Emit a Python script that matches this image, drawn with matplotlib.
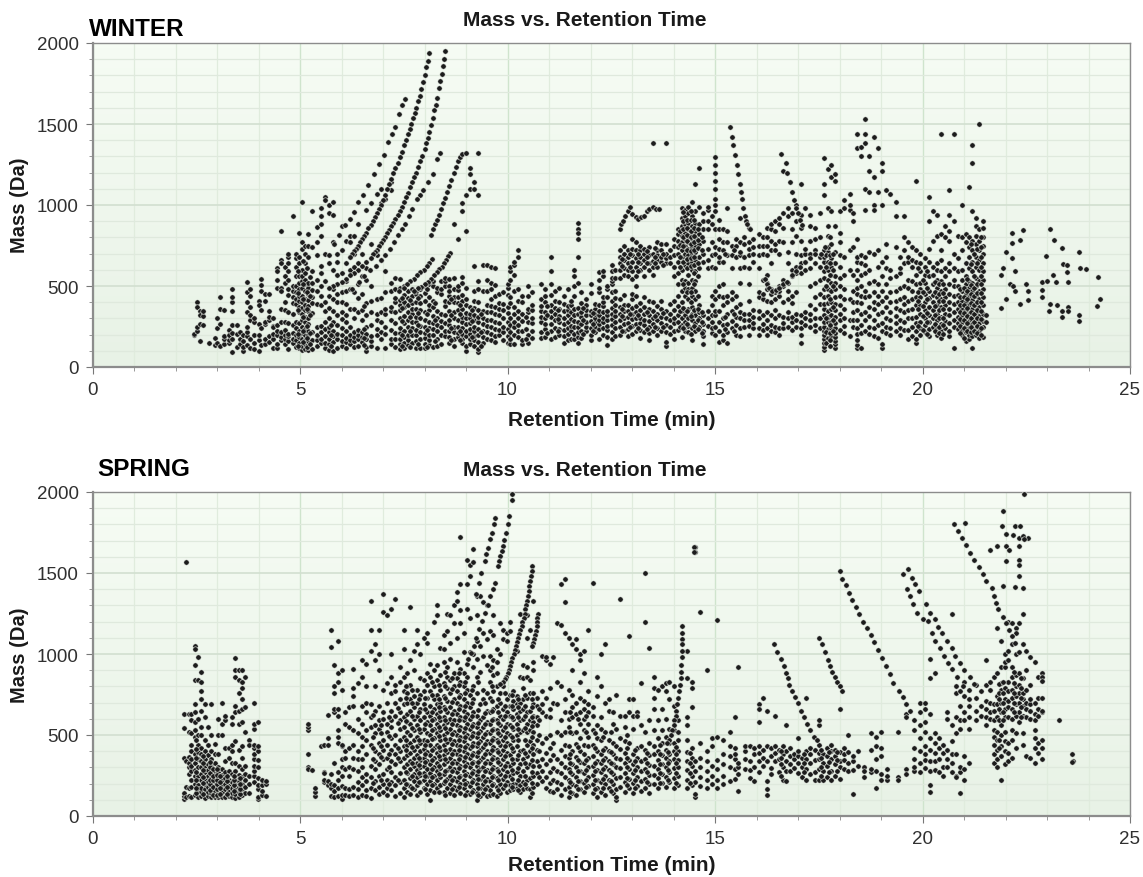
"""Mass vs. retention time scatter for the winter and spring samples.

Values were read off the published figure by eye. Clouds are stored as
retention time -> list of masses, the sharp homologue traces as paired lists.
"""
import numpy as np
import matplotlib
matplotlib.use("Agg")
import matplotlib.pyplot as plt

plt.rcParams["font.family"] = ["Liberation Sans", "DejaVu Sans"]

X_TICKS = [0, 5, 10, 15, 20, 25]
Y_TICKS = [0, 500, 1000, 1500, 2000]

# ---- WINTER clouds ----
winter_cloud_a = {
    2.45: [195, 205], 2.52: [225, 250, 400, 370], 2.58: [160, 265, 345, 320], 2.66: [260, 315, 345],
    2.8: [150], 2.95: [180, 135], 3.0: [240, 300, 150], 3.08: [130, 265, 360, 435], 3.18: [140, 170, 350, 190],
    3.3: [150, 165, 230, 200], 3.37: [95, 170, 210, 260, 345, 400, 430, 480], 3.47: [125, 205, 260], 3.55: [145, 215, 175],
    3.63: [100, 125, 160, 200], 3.72: [135, 190, 215, 250, 340, 400, 460, 525], 3.8: [120, 170, 290, 320, 370, 440, 480],
    3.9: [110, 150, 195, 275, 300], 4.0: [100, 165, 195, 265, 410, 380], 4.05: [135, 240, 350, 470, 505, 545],
    4.15: [140, 175, 265, 275, 405, 450], 4.25: [155, 190, 290, 310, 345, 450], 4.35: [120, 170, 205, 255, 245, 300],
    4.45: [115, 140, 200, 225, 260, 540, 610, 590, 490], 4.55: [165, 185, 215, 275, 360, 490, 470, 660, 640, 840],
    4.63: [145, 175, 200, 230, 275, 350, 400, 520, 560, 620],
    4.72: [110, 160, 190, 205, 270, 340, 445, 480, 540, 590, 640, 680, 700],
    4.82: [150, 175, 210, 260, 330, 395, 430, 470, 500, 930],
    4.9: [125, 165, 200, 240, 280, 390, 420, 460, 500, 560, 620, 670, 700],
    4.98: [120, 150, 185, 220, 270, 340, 370, 410, 440, 480, 520, 560, 640, 680, 830],
    5.05: [105, 130, 175, 210, 250, 290, 330, 365, 400, 440, 490, 530, 560, 600, 770, 730, 1020],
    5.12: [110, 140, 165, 200, 235, 275, 310, 350, 385, 420, 470, 510, 540, 580, 640, 700, 750],
    5.2: [105, 125, 160, 195, 225, 265, 300, 345, 375, 415, 450, 490, 520, 820, 750, 680],
    5.3: [110, 165, 215, 335, 395, 430, 475, 520, 590, 740, 960],
    5.4: [130, 165, 195, 250, 390, 470, 540, 690, 770, 865],
    5.5: [150, 170, 215, 255, 380, 440, 500, 580, 625, 810, 980, 930, 880],
    5.6: [120, 150, 190, 235, 280, 345, 400, 530, 700, 1050, 1030],
}
winter_cloud_b = {
    5.7: [105, 140, 175, 215, 250, 300, 365, 440, 640, 950, 1000],
    5.8: [100, 155, 190, 225, 275, 345, 420, 480, 600, 770, 1020, 940],
    5.9: [120, 170, 205, 260, 320, 400, 450, 570, 650, 700],
    6.0: [130, 160, 200, 240, 295, 340, 400, 460, 580, 720, 870],
    6.1: [115, 155, 180, 225, 275, 320, 390, 470, 530, 640, 780],
    6.2: [145, 165, 195, 245, 360, 480, 600, 680, 810, 770],
    6.3: [125, 160, 185, 215, 300, 355, 460, 620, 700, 810],
    6.4: [130, 170, 195, 230, 340, 425, 510, 640, 740, 880],
    6.5: [155, 185, 215, 290, 350, 450, 560, 700, 790],
    6.6: [100, 125, 170, 205, 250, 320, 395, 540, 610, 970],
    6.7: [130, 160, 190, 260, 340, 410, 500, 760, 1010],
    6.85: [115, 200, 235, 290, 330, 420, 690, 1070],
    6.95: [175, 215, 280, 340, 425, 660, 1010, 1100],
    7.05: [120, 205, 250, 325, 360, 465, 590, 1040],
    7.2: [140, 175, 230, 290, 345, 370, 470, 520, 1090, 1140],
    7.3: [125, 170, 210, 270, 340, 400, 425, 480, 550],
    7.4: [110, 140, 175, 210, 240, 300, 350, 380, 415, 490, 545],
    7.5: [115, 150, 185, 225, 270, 315, 370, 400, 445, 500],
    7.6: [135, 165, 200, 245, 290, 340, 380, 425, 470],
    7.7: [150, 195, 240, 275, 330, 360, 395, 440, 480],
    7.8: [115, 160, 200, 230, 280, 310, 355, 400, 450, 470],
    7.9: [120, 175, 215, 255, 305, 350, 395, 440, 480],
    8.0: [115, 140, 180, 210, 250, 290, 340, 405, 455, 500],
    8.1: [135, 165, 195, 240, 280, 350, 380, 430, 510],
    8.2: [125, 195, 235, 270, 315, 370, 405, 500, 530],
    8.3: [130, 175, 220, 260, 300, 345, 460, 490],
    8.4: [140, 200, 245, 285, 325, 450, 480, 530],
    8.5: [190, 225, 270, 320, 375, 410, 500, 530, 550],
    8.6: [150, 185, 220, 260, 290, 345, 400, 440, 545, 500, 470],
    8.7: [130, 170, 215, 250, 300, 340, 400, 435, 480, 550, 880],
    8.8: [185, 210, 245, 290, 350, 395, 430, 475, 500, 790],
    8.9: [150, 175, 205, 240, 280, 310, 360, 405, 445, 555, 520, 960, 1010],
    9.0: [100, 130, 190, 225, 265, 300, 335, 380, 420, 490, 840, 1060],
    9.1: [145, 170, 205, 235, 270, 300, 330, 370, 1100, 1190, 1230],
    9.2: [130, 165, 190, 220, 250, 290, 320, 365, 405, 470, 625, 1140, 1100],
    9.3: [95, 110, 155, 200, 235, 275, 310, 350, 400, 480, 530, 1060, 1320],
    9.4: [150, 185, 225, 265, 300, 345, 470, 630],
    9.5: [175, 215, 255, 290, 340, 385, 470, 540, 630],
}
winter_cloud_c = {
    9.6: [165, 205, 245, 290, 340, 375, 420, 480, 520, 620],
    9.7: [155, 190, 235, 280, 330, 370, 440, 505, 610],
    9.8: [195, 230, 270, 320, 355, 395, 450],
    9.9: [165, 215, 250, 300, 350, 390, 465],
    10.0: [150, 190, 235, 280, 335, 370, 445, 490, 510],
    10.07: [145, 175, 215, 260, 300, 395, 430, 540, 590, 620],
    10.15: [140, 200, 245, 280, 325, 370, 470, 630, 570, 650],
    10.25: [185, 225, 260, 300, 345, 410, 480, 680, 720],
    10.35: [140, 165, 220, 285, 330, 400, 440],
    10.5: [150, 195, 275, 340, 360, 440, 500],
    10.6: [180, 220, 270, 300, 350, 385, 460],
    10.8: [180, 215, 280, 310, 345, 375, 420, 510],
    10.9: [185, 235, 265, 300, 340, 400, 440, 480],
    11.05: [175, 220, 265, 310, 345, 380, 445, 510, 590, 680],
    11.15: [185, 240, 290, 330, 365, 410, 470],
    11.25: [200, 235, 275, 315, 360, 400, 490],
    11.35: [150, 190, 230, 265, 300, 345, 390, 440],
    11.45: [165, 205, 240, 280, 320, 350, 375, 480],
    11.52: [170, 225, 255, 295, 340, 385, 410],
    11.6: [175, 205, 250, 285, 320, 360, 440, 500, 560, 600],
    11.7: [150, 185, 215, 245, 280, 325, 365, 520, 680, 790, 850, 890, 830],
    11.78: [180, 225, 265, 310, 340, 395, 460],
    11.9: [220, 250, 280, 320, 350, 380, 420],
    12.0: [165, 200, 240, 285, 320, 345, 455, 510],
    12.1: [215, 245, 275, 300, 330, 355, 390],
    12.2: [170, 235, 265, 290, 320, 345, 380, 460, 490, 540, 585],
    12.3: [200, 240, 275, 305, 340, 375, 400, 430, 560, 590],
    12.4: [135, 185, 230, 255, 290, 320, 345, 430, 480, 500],
    12.52: [170, 215, 260, 295, 330, 365, 410, 460, 510, 530, 550, 590, 630],
    12.6: [190, 240, 275, 315, 345, 385, 425, 470, 550, 600],
    12.7: [200, 245, 290, 330, 370, 420, 550, 600, 640, 680, 720],
    12.8: [220, 265, 300, 345, 380, 445, 570, 610, 660, 700, 750],
    12.9: [190, 235, 270, 310, 345, 385, 560, 600, 640, 680, 720],
    13.0: [205, 255, 295, 330, 365, 420, 450, 545, 590, 650, 690, 730, 790],
    13.1: [220, 265, 300, 340, 375, 440, 500, 560, 620, 670, 720, 770],
    13.2: [180, 230, 270, 305, 350, 395, 600, 640, 680, 720, 750],
    13.3: [215, 260, 290, 325, 370, 430, 560, 620, 660, 700, 730],
    13.4: [165, 210, 250, 285, 320, 360, 410, 600, 640, 690, 740],
    13.5: [220, 265, 300, 345, 400, 570, 620, 655, 700, 1380],
    13.6: [200, 240, 290, 330, 375, 620, 660, 690, 720, 770],
    13.7: [225, 270, 310, 355, 410, 650, 680, 720, 760],
    13.82: [130, 155, 215, 260, 300, 345, 640, 670, 700, 760, 1380],
    13.92: [205, 250, 290, 330, 390, 640, 680, 720],
}
winter_cloud_d = {
    14.0: [170, 225, 270, 305, 350, 410, 560, 620, 690, 750, 790],
    14.1: [230, 280, 320, 375, 440, 510, 580, 650, 700, 740, 780, 820, 850],
    14.2: [185, 260, 300, 345, 400, 470, 540, 600, 680, 720, 770, 810, 870, 920, 980],
    14.28: [225, 275, 320, 440, 490, 530, 630, 700, 750, 790, 830, 880, 930, 970],
    14.36: [215, 255, 300, 355, 420, 480, 520, 570, 640, 690, 730, 770, 810, 850, 890, 950, 985],
    14.45: [165, 240, 290, 330, 370, 440, 490, 540, 600, 650, 700, 740, 790, 830, 870, 930, 1020],
    14.52: [220, 270, 320, 420, 470, 530, 590, 660, 710, 750, 800, 840, 890, 960, 1130],
    14.62: [250, 300, 340, 385, 610, 680, 760, 820, 880, 990, 1230],
    14.72: [140, 190, 225, 265, 320, 650, 700, 780, 850, 900, 950],
    14.82: [255, 300, 345, 610, 660, 730, 850, 900, 970, 990],
    14.92: [210, 240, 280, 320, 385, 440, 620, 690, 770, 880, 930],
    15.0: [200, 250, 320, 345, 420, 470, 610, 700, 740, 850, 960, 1000, 1040, 1100, 1150, 1200, 1250, 1297],
    15.1: [155, 225, 280, 345, 440, 500, 650, 680, 730, 790, 850, 910],
    15.2: [165, 195, 260, 300, 380, 430, 510, 650, 720, 770, 850],
    15.3: [150, 215, 265, 330, 400, 440, 690, 770, 840, 980],
    15.4: [240, 285, 345, 420, 460, 610, 690, 750],
    15.5: [200, 260, 310, 370, 440, 680, 750, 790],
    15.6: [190, 240, 300, 340, 390, 520, 610, 690, 710, 770, 920],
    15.7: [245, 290, 330, 620, 680, 760, 800],
    15.82: [195, 255, 290, 330, 410, 510, 610, 690, 730, 770, 860],
    15.92: [240, 270, 310, 350, 650, 700, 740, 790],
    16.05: [195, 240, 300, 345, 430, 460, 610, 690, 750, 820],
    16.15: [230, 265, 320, 420, 450, 540, 700, 750, 800],
    16.25: [195, 240, 290, 340, 410, 480, 520, 570, 690, 750, 800, 860],
    16.35: [220, 260, 320, 400, 450, 480, 640, 720, 780, 850, 880],
    16.45: [215, 250, 305, 350, 420, 460, 720, 760, 840, 900],
    16.55: [195, 240, 320, 440, 470, 500, 700, 780, 880, 920],
    16.65: [240, 270, 310, 400, 500, 540, 770, 860, 950, 1210],
    16.75: [250, 300, 340, 420, 470, 520, 640, 710, 930, 980],
    16.85: [230, 275, 310, 395, 440, 560, 600, 770, 850, 950],
    16.95: [250, 290, 330, 460, 580, 620, 700, 810, 900, 1000],
    17.08: [150, 195, 240, 280, 320, 580, 640, 690, 780, 860, 940, 1130],
    17.18: [260, 300, 340, 600, 650, 700, 730, 980],
    17.3: [250, 290, 330, 380, 500, 610, 700, 780, 870, 940],
    17.4: [225, 260, 300, 360, 430, 520, 640, 720, 790, 860],
    17.52: [240, 300, 390, 450, 540, 620, 680, 800, 950],
    17.63: [105, 125, 150, 175, 200, 225, 250, 280, 320, 360, 390, 430, 480, 550, 590, 650, 680, 720, 1060, 1130, 1290],
    17.72: [180, 235, 280, 310, 345, 395, 440, 480, 540, 600, 650, 710, 740, 810, 870, 980, 1220],
    17.8: [190, 240, 275, 320, 355, 400, 470, 520, 570, 620, 670, 760, 960, 1170, 1250],
    17.9: [120, 140, 160, 185, 210, 240, 270, 310, 350, 390, 430, 480, 520, 560, 640, 710, 870, 1190, 1150],
}
winter_cloud_e = {
    18.0: [230, 290, 330, 385, 440, 500, 550, 620, 690, 770, 830, 960],
    18.12: [210, 255, 300, 360, 420, 480, 570, 680, 980, 1030],
    18.25: [190, 290, 420, 600, 720, 970, 1000, 1070],
    18.33: [250, 290, 340, 400, 470, 570, 740, 900, 950],
    18.42: [115, 135, 165, 205, 240, 290, 350, 400, 450, 490, 540, 600, 650, 680, 790, 1440, 1350],
    18.52: [120, 210, 260, 330, 395, 440, 500, 570, 640, 690, 1360, 1300],
    18.62: [220, 290, 340, 430, 470, 580, 630, 680, 970, 1100, 1530, 1440, 1380],
    18.72: [205, 250, 315, 370, 440, 520, 600, 710, 1080, 1210, 1300],
    18.82: [190, 240, 290, 360, 400, 460, 530, 700, 1000, 970, 1170, 1420],
    18.92: [180, 260, 330, 390, 440, 510, 620, 720, 1080, 1350],
    19.02: [120, 145, 220, 270, 340, 410, 470, 560, 650, 1000, 1260, 1210],
    19.12: [210, 250, 300, 370, 430, 510, 610, 680, 760, 1090],
    19.22: [195, 240, 290, 340, 400, 460, 550, 600, 1070],
    19.35: [220, 270, 315, 365, 410, 470, 560, 740, 1020, 930],
    19.45: [195, 240, 290, 350, 420, 490, 580, 610, 680],
    19.55: [230, 280, 340, 390, 430, 500, 640, 720, 800, 930],
    19.65: [170, 230, 300, 350, 410, 490, 540, 650, 680, 770],
    19.75: [190, 250, 300, 360, 420, 470, 530, 620, 660, 740],
    19.85: [150, 175, 220, 270, 310, 380, 430, 510, 570, 650, 720, 1150],
    19.95: [195, 240, 280, 330, 380, 430, 480, 520, 590, 640, 700],
    20.05: [215, 260, 300, 350, 400, 450, 520, 570, 620, 670],
    20.15: [190, 235, 275, 320, 370, 425, 470, 560, 650, 730, 900, 1050],
    20.25: [250, 300, 350, 400, 445, 510, 570, 620, 780, 960],
    20.35: [195, 240, 290, 330, 380, 430, 490, 540, 600, 640, 810, 940],
    20.45: [180, 225, 265, 310, 370, 420, 470, 530, 590, 660, 720, 820, 1440],
    20.55: [240, 285, 330, 380, 430, 480, 560, 610, 800, 870],
    20.65: [190, 225, 270, 320, 360, 400, 450, 510, 590, 640, 780, 840, 940, 1090],
    20.75: [115, 250, 290, 340, 390, 440, 500, 540, 610, 700, 900, 1440],
    20.85: [235, 270, 310, 360, 400, 445, 500, 590, 670, 810],
    20.95: [195, 230, 275, 320, 360, 410, 470, 540, 600, 720, 800, 1000],
    21.05: [160, 215, 255, 300, 350, 400, 450, 510, 560, 640, 770, 820],
    21.12: [170, 200, 240, 285, 325, 380, 430, 490, 530, 610, 680, 740, 800, 1110],
    21.2: [115, 190, 265, 310, 360, 415, 470, 520, 590, 650, 720, 780, 960, 1260, 1370],
    21.28: [195, 240, 290, 330, 375, 440, 500, 550, 620, 680, 760, 810, 870, 920],
    21.36: [180, 225, 270, 315, 370, 420, 470, 530, 600, 660, 720, 780, 850, 1500],
    21.45: [185, 250, 285, 330, 380, 435, 480, 540, 590, 640, 700, 750, 800, 860, 900],
    21.52: [280, 320],
}
# second pass over the busiest stretches of the winter run
winter_cloud_f = {
    4.95: [132, 205, 352, 455, 590], 5.08: [152, 222, 310, 418, 515, 655], 5.16: [122, 182, 255, 360, 465, 610],
    5.25: [140, 210, 320, 440, 555], 5.75: [128, 200, 262], 6.55: [135, 178, 235, 375], 7.45: [128, 195, 285, 365, 425],
    7.65: [125, 222, 310, 412], 7.85: [142, 262, 335, 425], 8.05: [125, 228, 325, 480], 8.25: [160, 290, 395],
    8.65: [165, 238, 320, 420], 8.85: [165, 225, 325, 380], 9.15: [185, 285, 350], 9.35: [130, 215, 330],
    10.45: [170, 235, 310], 10.95: [210, 320, 375], 11.22: [220, 295, 350], 11.82: [205, 290, 365],
    12.05: [225, 265, 335], 12.75: [225, 315, 355, 625, 665], 12.95: [250, 325, 620, 700], 13.15: [240, 320, 590, 650, 700],
    13.35: [235, 340, 640, 680, 715], 13.55: [245, 315, 640, 680, 735], 13.75: [245, 335, 630, 700],
    14.15: [250, 345, 620, 680, 755, 840], 14.24: [240, 365, 510, 650, 745, 800, 850, 900, 955],
    14.32: [265, 345, 460, 610, 665, 720, 775, 815, 860, 910], 14.41: [205, 315, 400, 465, 625, 675, 715, 760, 800, 840, 905, 965],
    14.49: [255, 350, 510, 580, 630, 680, 725, 770, 810, 855, 910], 14.58: [235, 290, 360, 440, 560, 640, 735, 785, 850],
    14.68: [210, 280, 340, 720, 800], 15.25: [235, 310, 700], 15.45: [225, 330, 720], 17.68: [150, 215, 300, 500, 620, 690],
    17.76: [130, 165, 210, 260, 420, 570, 640, 690], 17.85: [220, 290, 370, 500, 600, 700], 19.9: [255, 355, 405, 460, 610],
    20.0: [230, 315, 375, 465, 540], 20.1: [205, 280, 335, 420, 490, 590], 20.3: [225, 265, 320, 375, 465, 525],
    20.4: [210, 250, 305, 350, 405, 450, 515], 20.5: [205, 260, 305, 355, 410, 455, 510], 20.9: [210, 255, 295, 340, 385, 430, 480],
    21.0: [180, 240, 290, 335, 385, 435, 490], 21.08: [225, 270, 315, 365, 420, 470, 545], 21.16: [215, 250, 300, 340, 395, 450, 505, 635, 760],
    21.24: [225, 275, 325, 380, 440, 490, 560, 700], 21.32: [210, 255, 305, 350, 400, 455, 510, 640, 730],
    21.4: [200, 240, 295, 345, 400, 455, 510, 560, 620, 680, 740, 800],
}
winter_tail_rt = [21.89, 21.93, 22.0, 22.16, 22.16, 22.16, 22.22, 22.11, 22.18, 22.22, 22.02, 21.89, 22.35, 22.35,
                  22.42, 22.5, 22.55, 22.55, 22.89, 22.89, 22.89, 23.0, 22.98, 23.08, 23.17, 23.14, 23.21, 23.04,
                  23.07, 23.24, 23.36, 23.39, 23.48, 23.48, 23.5, 23.36, 23.36, 23.5, 23.5, 23.78, 23.8, 23.94,
                  23.77, 23.77, 24.24, 24.28, 24.2]
winter_tail_mass = [566, 611, 710, 827, 766, 673, 593, 515, 500, 467, 422, 366, 391, 786,
                    844, 515, 469, 416, 525, 477, 432, 529, 685, 854, 782, 566, 525, 346,
                    391, 381, 737, 638, 628, 587, 525, 346, 309, 370, 346, 710, 613, 603,
                    319, 282, 554, 422, 377]

# ---- WINTER homologue traces ----
winter_trace1_rt = [7.52, 7.46, 7.39, 7.3, 7.22, 7.13, 7.02, 6.91, 6.78, 6.65, 6.52, 6.39, 6.3, 6.21, 6.08, 5.95, 5.82, 5.69]
winter_trace1_mass = [1657, 1615, 1564, 1481, 1440, 1389, 1307, 1255, 1194, 1122, 1060, 1018, 957, 916, 875, 813, 761, 689]
winter_trace2_rt = [8.12, 8.08, 8.04, 8.0, 7.96, 7.92, 7.88, 7.84, 7.8, 7.76, 7.72, 7.68, 7.64, 7.6, 7.55, 7.5, 7.45, 7.4,
                    7.35, 7.3, 7.25, 7.2, 7.15, 7.1, 7.05, 7.0, 6.95, 6.9, 6.85, 6.8, 6.75, 6.7, 6.65, 6.6, 6.55, 6.5,
                    6.45, 6.4, 6.35, 6.3, 6.25, 6.2]
winter_trace2_mass = [1940, 1890, 1850, 1800, 1760, 1715, 1675, 1640, 1600, 1570, 1535, 1500, 1470, 1440, 1400, 1370, 1330, 1295,
                      1260, 1230, 1195, 1160, 1130, 1100, 1060, 1030, 1000, 975, 950, 925, 900, 875, 855, 830, 810, 790,
                      770, 750, 730, 715, 695, 680]
winter_trace3_rt = [8.5, 8.47, 8.44, 8.41, 8.38, 8.35, 8.3, 8.27, 8.24, 8.2, 8.16, 8.12, 8.08, 8.04, 8.0, 7.95, 7.9, 7.85,
                    7.8, 7.75, 7.7, 7.65, 7.6, 7.55, 7.5, 7.45, 7.4, 7.35, 7.3, 7.25, 7.2, 7.15, 7.1, 7.05, 7.0, 6.95,
                    6.9, 6.85, 6.8, 6.75, 6.7, 6.6, 6.5, 6.4, 6.3, 6.2, 6.1, 6.0, 5.9, 5.8, 5.7]
winter_trace3_mass = [1950, 1900, 1855, 1810, 1765, 1720, 1660, 1620, 1585, 1540, 1495, 1450, 1415, 1380, 1345, 1305, 1270, 1235,
                      1200, 1170, 1140, 1110, 1075, 1050, 1020, 990, 965, 940, 915, 890, 870, 845, 825, 805, 785, 765,
                      745, 725, 710, 695, 675, 650, 625, 600, 580, 565, 545, 525, 510, 500, 490]
winter_trace4_rt = [8.37, 8.31, 8.2, 8.09, 7.96, 7.9, 7.83, 7.7, 7.62, 7.52, 7.45, 7.35, 7.27, 7.17, 7.05, 6.95, 6.82, 6.69, 6.55, 6.43, 6.26]
winter_trace4_mass = [1323, 1282, 1194, 1142, 1090, 1060, 1040, 978, 930, 885, 850, 813, 770, 730, 690, 659, 625, 597, 560, 525, 484]
winter_trace5_rt = [8.15, 8.2, 8.25, 8.3, 8.35, 8.4, 8.45, 8.5, 8.55, 8.6, 8.65, 8.7, 8.75, 8.8, 8.85, 8.9, 9.0]
winter_trace5_mass = [815, 850, 880, 910, 940, 975, 1010, 1045, 1080, 1115, 1155, 1195, 1235, 1270, 1295, 1315, 1320]
winter_trace6_rt = [8.18, 8.12, 8.05, 7.98, 7.9, 7.82, 7.74, 7.65, 7.58, 7.5, 7.39]
winter_trace6_mass = [669, 645, 625, 600, 585, 565, 545, 530, 510, 490, 470]
winter_trace7_rt = [8.62, 8.57, 8.52, 8.47, 8.42, 8.36, 8.3, 8.24, 8.16, 8.08, 8.0, 7.92, 7.84, 7.74]
winter_trace7_mass = [706, 685, 660, 640, 620, 605, 585, 565, 545, 525, 510, 495, 485, 470]
winter_fall1_rt = [15.36, 15.4, 15.43, 15.48, 15.52, 15.56, 15.6, 15.62, 15.64, 15.68, 15.72, 15.74, 15.78, 15.84]
winter_fall1_mass = [1480, 1420, 1370, 1310, 1250, 1190, 1130, 1080, 1040, 980, 930, 900, 880, 854]
winter_fall2_rt = [16.6, 16.72, 16.73, 16.8, 16.85, 16.9, 16.95, 17.0, 17.04, 17.1]
winter_fall2_mass = [1313, 1260, 1200, 1140, 1080, 1030, 980, 950, 910, 875]
winter_ridge_rt = [12.7, 12.73, 12.78, 12.84, 12.9, 12.96, 13.0, 13.09, 13.15, 13.22, 13.3, 13.36, 13.42, 13.5, 13.58, 13.66]
winter_ridge_mass = [854, 880, 900, 930, 965, 988, 945, 926, 915, 925, 935, 960, 975, 985, 975, 978]
winter_ring_rt = [16.2, 16.25, 16.3, 16.38, 16.46, 16.55, 16.65, 16.74, 16.85, 16.95, 17.05, 17.18, 17.3, 17.42, 17.55, 17.66, 17.78]
winter_ring_mass = [545, 510, 485, 470, 475, 490, 510, 525, 570, 590, 620, 648, 670, 695, 700, 740, 800]

# ---- SPRING clouds ----
spring_cloud_a = {
    2.2: [105, 125, 140, 360, 545, 630], 2.25: [115, 180, 340, 1570], 2.32: [125, 175, 260, 300, 330, 365, 520, 630],
    2.38: [120, 180, 220, 275, 310, 350, 400, 440, 510, 590, 630], 2.46: [130, 200, 250, 285, 325, 380, 490, 530, 580, 640, 690, 1050, 1030, 930, 840],
    2.54: [115, 160, 190, 245, 300, 350, 395, 440, 500, 600, 980, 840],
    2.62: [125, 150, 175, 220, 260, 300, 340, 385, 420, 500, 550, 650, 720, 890, 830, 770],
    2.7: [110, 140, 165, 195, 230, 270, 310, 350, 400, 470, 610, 690],
    2.78: [125, 150, 180, 210, 245, 285, 320, 375, 440, 550],
    2.86: [115, 140, 170, 205, 235, 265, 310, 350, 400, 500, 690],
    2.95: [120, 155, 185, 215, 250, 280, 325, 380, 445],
    3.03: [115, 145, 175, 205, 240, 270, 300, 380, 500, 600],
    3.12: [120, 150, 190, 225, 255, 290, 500, 570, 700],
    3.2: [115, 165, 200, 235, 270, 340, 420, 590, 620],
    3.28: [125, 155, 185, 225, 280, 355, 420],
    3.36: [120, 145, 175, 210, 260, 330, 440, 400, 610, 570],
    3.44: [110, 135, 165, 195, 230, 275, 330, 460, 640, 680, 860, 975, 900],
    3.52: [120, 150, 180, 215, 255, 310, 405, 570, 650, 760, 900, 840],
    3.6: [130, 165, 200, 240, 290, 360, 430, 580, 660, 830, 790, 720, 900],
    3.68: [145, 180, 220, 260, 310, 520, 670, 860],
    3.78: [140, 200, 250, 470, 440],
    3.9: [210, 250, 280, 310, 350, 380, 420, 440, 540, 570, 700],
    3.98: [105, 120, 165, 190, 235, 300, 345, 400, 430, 580],
    4.08: [130, 155, 190, 220],
    4.18: [125, 200, 215],
}
spring_cloud_b = {
    5.2: [530, 550, 570, 380, 305, 290],
    5.28: [285],
    5.35: [125, 150, 175],
    5.5: [430],
    5.58: [210, 220, 270, 265, 440],
    5.68: [190, 215, 625, 480, 440],
    5.75: [125, 170, 200, 260, 1045, 1150],
    5.82: [120, 155, 190, 330, 640, 660, 760, 800, 930],
    5.92: [125, 170, 220, 270, 450, 490, 530, 620, 660, 830, 880, 1080],
    6.0: [105, 130, 185, 245, 300, 350, 430, 440, 780, 900],
    6.08: [130, 175, 290, 355, 400, 570, 640],
    6.18: [125, 165, 250, 300, 420, 550, 670],
    6.28: [130, 180, 290, 360, 440, 530, 680, 740, 790, 910],
    6.4: [120, 165, 210, 280, 350, 400, 510, 600, 820],
    6.5: [130, 190, 240, 300, 350, 430, 490, 570, 680, 860, 960],
    6.6: [125, 160, 215, 260, 380, 470, 530, 640, 700, 800, 940],
    6.7: [110, 175, 240, 310, 440, 550, 610, 690, 1020, 1150, 1330],
    6.8: [160, 215, 290, 340, 400, 510, 560, 650, 800, 960, 1060],
    6.9: [135, 180, 250, 320, 385, 450, 540, 590, 680, 900, 1000, 1150],
    7.0: [150, 200, 260, 350, 410, 470, 600, 640, 780, 1260, 1370],
    7.1: [130, 175, 225, 290, 360, 440, 520, 570, 700, 820, 1240],
    7.2: [160, 210, 270, 340, 410, 480, 550, 590, 650, 760, 860, 1000, 1280],
    7.3: [125, 190, 240, 320, 380, 440, 500, 620, 700, 770, 810, 1340],
    7.4: [145, 210, 265, 340, 400, 470, 540, 590, 640, 720, 830, 920],
    7.5: [120, 170, 225, 300, 360, 430, 490, 550, 610, 690, 770, 860, 1030, 1150],
    7.58: [150, 200, 265, 320, 375, 440, 520, 580, 630, 700, 760, 800, 880],
    7.66: [135, 185, 235, 290, 340, 390, 450, 500, 570, 650, 720, 810, 960, 1290],
    7.74: [165, 215, 260, 310, 360, 410, 470, 530, 600, 670, 740, 900, 1020],
    7.82: [130, 190, 240, 285, 330, 375, 430, 490, 560, 620, 700, 780, 1150, 1060],
    7.9: [150, 210, 255, 300, 345, 400, 450, 520, 590, 660, 750, 850, 1000],
    7.98: [175, 225, 265, 310, 360, 415, 470, 540, 610, 690, 770, 840, 1100],
    8.06: [135, 195, 245, 290, 340, 395, 460, 510, 580, 640, 730, 810, 880, 1070, 1130],
    8.14: [100, 160, 215, 265, 320, 375, 440, 500, 560, 620, 680, 770, 860, 940],
    8.22: [150, 200, 250, 305, 360, 420, 480, 540, 600, 660, 720, 800, 900, 1200],
    8.3: [170, 225, 280, 330, 390, 440, 510, 570, 630, 690, 750, 840, 930, 1240, 1300],
    8.38: [190, 240, 295, 350, 410, 470, 530, 590, 650, 700, 780, 870, 1040],
    8.46: [150, 205, 260, 320, 375, 440, 500, 560, 610, 670, 740, 820, 950, 1030, 1120],
    8.54: [175, 230, 285, 340, 395, 455, 520, 580, 640, 710, 790, 860, 920, 1250, 1140],
}
spring_cloud_c = {
    8.62: [140, 195, 250, 300, 355, 415, 475, 535, 600, 670, 760, 840, 970, 1070, 1240],
    8.7: [130, 180, 235, 290, 340, 400, 460, 520, 590, 650, 720, 800, 880, 1190, 1300],
    8.78: [160, 215, 270, 325, 380, 440, 500, 560, 630, 700, 770, 850, 950, 1100, 1380, 1330],
    8.86: [140, 195, 250, 310, 370, 430, 490, 550, 610, 680, 750, 830, 910, 1190, 1270, 1430, 1720],
    8.94: [170, 225, 280, 340, 400, 460, 520, 590, 650, 720, 800, 880, 1010, 1130],
    9.02: [150, 205, 260, 320, 380, 440, 500, 570, 630, 700, 780, 860, 940, 1280, 1430, 1580],
    9.1: [135, 185, 245, 300, 355, 420, 480, 540, 600, 670, 750, 1010, 1220, 1480, 1550],
    9.18: [160, 220, 275, 335, 390, 450, 510, 570, 640, 720, 800, 920, 1000, 1650, 1570],
    9.26: [100, 145, 200, 255, 310, 370, 430, 490, 550, 620, 760, 860, 970, 1080, 1240, 1360],
    9.34: [125, 175, 230, 290, 345, 405, 465, 525, 590, 690, 890, 1050, 1360],
    9.42: [140, 195, 250, 305, 365, 425, 490, 550, 610, 720, 780, 990, 1130, 1320],
    9.5: [125, 180, 230, 285, 340, 400, 460, 520, 580, 650, 760, 930, 1090, 1300],
    9.58: [130, 160, 215, 270, 330, 390, 450, 510, 570, 640, 730, 830, 900, 990, 1140],
    9.66: [135, 195, 250, 305, 365, 425, 480, 540, 600, 660, 770, 870, 960, 1120, 1240],
    9.74: [125, 180, 235, 290, 350, 410, 470, 530, 590, 680, 800, 880, 950, 1030],
    9.82: [145, 200, 260, 320, 380, 440, 500, 560, 620, 700, 760, 1000, 1190],
    9.9: [170, 230, 290, 350, 410, 470, 530, 600, 660, 800, 1090, 1150],
    9.98: [150, 210, 270, 330, 390, 450, 510, 570, 640, 720, 1080, 1130],
    10.06: [160, 190, 250, 310, 375, 440, 500, 560, 620, 680, 750, 1200, 1140],
    10.14: [165, 200, 265, 330, 400, 470, 540, 600, 660, 710, 770],
    10.22: [170, 205, 270, 350, 430, 500, 570, 630, 690, 740, 1020],
    10.3: [150, 190, 250, 320, 400, 520, 590, 650, 700, 860, 1250],
    10.38: [165, 210, 275, 350, 410, 530, 600, 660, 720, 790, 850, 930],
    10.46: [175, 225, 300, 370, 440, 520, 570, 640, 730, 860, 920, 1100, 1240],
    10.54: [120, 165, 235, 320, 400, 460, 530, 590, 650, 760, 840, 1150],
    10.62: [180, 245, 310, 380, 440, 520, 580, 620, 690, 760, 950, 900, 1330],
    10.72: [195, 265, 340, 410, 470, 560, 610, 680, 730],
    10.82: [215, 280, 350, 450, 640, 690, 770, 990],
    10.92: [170, 240, 320, 390, 480, 620, 730, 960, 980],
    11.02: [155, 205, 270, 345, 420, 500, 610, 660, 790, 940],
    11.1: [150, 225, 295, 375, 450, 700, 980],
    11.2: [165, 210, 280, 350, 520, 690, 830, 1190],
    11.3: [130, 195, 265, 330, 410, 500, 590, 800, 1180, 1430],
    11.38: [165, 240, 300, 370, 440, 520, 640, 720, 1130, 1320, 1460],
    11.47: [115, 180, 225, 290, 360, 430, 550, 600, 780, 1100],
    11.55: [145, 200, 260, 320, 400, 510, 610, 670, 750, 900, 1060],
    11.65: [130, 185, 240, 300, 365, 445, 520, 630, 700, 1030, 1090],
    11.75: [165, 215, 280, 335, 400, 480, 570, 640, 730, 830, 960, 1000],
    11.85: [150, 205, 265, 325, 385, 440, 530, 600, 660, 710, 880, 1020],
    11.95: [185, 240, 300, 360, 430, 490, 570, 640, 690, 770, 1150],
}
spring_cloud_d = {
    12.05: [140, 195, 255, 310, 370, 440, 530, 620, 670, 1440],
    12.15: [120, 170, 225, 285, 340, 400, 480, 560, 740, 860],
    12.25: [150, 210, 270, 330, 385, 470, 540, 610, 800, 1000],
    12.35: [130, 195, 250, 305, 360, 420, 520, 700, 1060],
    12.45: [170, 225, 285, 340, 400, 470, 650, 720],
    12.55: [145, 200, 260, 320, 380, 450, 570, 640],
    12.62: [100, 120, 165, 235, 300, 355, 430, 540, 750],
    12.72: [180, 240, 295, 350, 415, 480, 620, 1340],
    12.82: [150, 210, 265, 325, 390, 460, 550, 620],
    12.92: [170, 230, 290, 345, 450, 640, 720, 1110],
    13.02: [145, 205, 265, 320, 380, 540, 620, 720],
    13.12: [185, 240, 300, 355, 420, 640, 620],
    13.22: [155, 215, 275, 340, 430, 560, 820],
    13.32: [170, 230, 290, 350, 410, 520, 1200, 1500],
    13.42: [140, 195, 255, 315, 375, 450, 590, 1040],
    13.52: [195, 255, 310, 380, 430, 530, 660, 730, 860, 790],
    13.62: [175, 235, 290, 345, 400, 480, 590, 780],
    13.72: [205, 260, 320, 375, 450, 530, 660, 800],
    13.82: [180, 240, 300, 355, 410, 490, 600, 770, 820],
    13.9: [210, 270, 340, 380, 450, 540, 720, 830],
    14.0: [175, 235, 295, 350, 400, 450, 530, 680, 800],
    14.12: [190, 250, 305, 345, 400, 470, 520, 590],
    14.32: [175, 225, 285, 340, 395, 470, 560, 610, 850, 1020],
    14.45: [190, 250, 310, 360, 420, 670, 790, 830],
    14.53: [115, 135, 210, 275, 340, 1660, 1630],
    14.65: [185, 240, 300, 355, 450, 1260],
    14.8: [175, 225, 280, 340, 400, 900],
    14.92: [195, 250, 310, 430, 480],
    15.05: [170, 220, 290, 345, 490, 1210],
    15.2: [195, 245, 320, 385, 470],
    15.35: [215, 300, 370, 430, 520],
    15.48: [230, 290, 350, 380, 420, 610],
    15.55: [155, 260, 300, 330, 920],
    15.72: [290, 350, 400, 430],
    15.85: [235, 285, 340, 430],
    15.95: [215, 300, 380, 420],
    16.05: [270, 340, 390, 430, 580, 690, 660],
    16.15: [310, 360, 410, 730],
    16.25: [130, 165, 215, 340, 430, 650],
    16.35: [260, 295, 370, 420],
    16.45: [340, 390, 430, 620],
    16.55: [270, 350, 410],
    16.65: [225, 300, 380, 430],
    16.72: [215, 275, 340, 400, 560],
    16.8: [280, 320, 370, 420],
    16.9: [295, 350, 380],
    17.0: [265, 330, 370, 400, 480],
    17.1: [240, 300, 360],
    17.2: [225, 290, 350, 400, 730],
    17.3: [260, 330, 380, 420],
    17.4: [225, 270, 345, 410],
    17.5: [225, 290, 350, 390, 440, 560, 590],
    17.6: [225, 275, 330, 380],
    17.7: [240, 310, 370, 420],
    17.8: [225, 280, 350, 400, 440],
    17.9: [250, 320, 370, 410],
    18.0: [230, 300, 340, 395, 660],
    18.1: [290, 345, 380, 420],
    18.2: [280, 330, 395, 500],
    18.33: [135, 285, 340, 370],
    18.45: [310, 400],
    18.6: [300, 280, 240],
    18.75: [270, 290, 410, 510],
    18.88: [170, 275, 350, 430, 490],
    19.0: [260, 220, 370, 420, 520],
    19.15: [220, 290, 250],
    19.4: [240, 220, 520],
    19.6: [290, 260, 630, 610],
    19.8: [280, 300, 350, 420, 530, 590],
    19.95: [270, 330, 400, 480, 560, 640, 700],
    20.05: [295, 345, 380, 430, 520, 580, 660, 700],
    20.18: [150, 190, 280, 340, 410, 480, 630, 970, 850],
    20.3: [285, 340, 390, 450, 510, 880],
    20.4: [270, 350, 420, 480],
    20.5: [250, 300, 390, 440],
    20.6: [300, 350, 410, 600, 640],
    20.72: [270, 330, 380, 460, 560, 1250],
    20.8: [250, 240, 380, 510, 610, 760, 800],
    20.9: [145, 270, 300, 540, 590, 680, 770],
    21.0: [220, 290, 370, 590, 640, 740, 830],
    21.12: [330, 540, 610, 680, 720, 780],
    21.3: [590, 650, 730, 810],
    21.42: [620, 680, 770],
    21.52: [560, 610, 660, 710, 810, 960],
    21.62: [600, 640, 700, 780, 830],
    21.72: [330, 380, 440, 490, 530, 590, 650, 690, 860],
    21.8: [300, 350, 410, 470, 520, 610, 690, 740, 880, 1160],
    21.88: [225, 370, 430, 500, 560, 640, 700, 780, 820, 920, 1080],
    21.98: [320, 400, 460, 520, 610, 660, 720, 790, 920, 950, 1000],
    22.06: [340, 390, 450, 610, 670, 710, 770, 830, 960, 1020, 1200],
    22.16: [360, 470, 530, 600, 660, 730, 780, 860, 920, 1060, 1190],
    22.25: [420, 510, 620, 690, 740, 800, 870, 1160, 1130, 1000],
    22.33: [580, 640, 700, 760, 810, 880, 1010, 1190],
    22.42: [440, 510, 620, 680, 720, 760, 850, 1060, 1250],
    22.5: [370, 610, 660, 700, 780, 900, 1020],
    22.6: [360, 600, 650, 690, 720, 810, 980],
    22.7: [330, 420, 480, 530, 590, 630, 700, 950],
    22.78: [390, 450, 620, 660, 730, 860],
    22.88: [350, 420, 470, 640, 650, 730, 880, 860, 835],
}
# second pass, breaks up the busiest part of the spring cloud
spring_cloud_e = {
    2.5: [145, 175, 225, 270, 360, 415, 470], 2.66: [135, 205, 240, 285, 325, 370], 2.82: [160, 195, 225, 265, 300, 335],
    2.9: [130, 180, 220, 250, 290], 3.0: [130, 165, 195, 225, 255, 290], 3.08: [135, 170, 210, 245], 3.24: [135, 180, 215, 250],
    3.4: [155, 190, 225, 250], 3.56: [135, 165, 200, 235], 6.75: [205, 350, 420, 490, 625], 6.95: [225, 365, 430, 510, 560],
    7.15: [195, 305, 385, 495, 610], 7.35: [225, 355, 420, 575, 665], 7.55: [195, 270, 410, 470, 585, 730, 805],
    7.7: [175, 250, 325, 425, 545, 620, 700, 780], 7.86: [210, 265, 315, 360, 470, 535, 640, 725],
    8.02: [165, 245, 335, 385, 440, 565, 660, 730], 8.18: [190, 240, 290, 345, 410, 475, 530, 590, 640, 750, 830],
    8.34: [150, 260, 310, 370, 425, 495, 550, 610, 670, 720, 810], 8.5: [130, 215, 275, 350, 405, 475, 545, 595, 660, 730, 800, 890],
    8.66: [165, 225, 275, 330, 385, 445, 505, 565, 630, 705, 785, 850], 8.82: [180, 240, 295, 350, 410, 470, 530, 590, 660, 735, 810, 880],
    8.98: [130, 200, 255, 310, 365, 425, 490, 545, 610, 680, 760, 830], 9.14: [150, 210, 265, 325, 375, 435, 495, 555, 620, 695, 775],
    9.3: [130, 170, 230, 280, 335, 395, 450, 510, 575, 655, 830], 9.46: [165, 215, 275, 330, 385, 445, 505, 565, 635, 700],
    9.62: [190, 240, 290, 350, 410, 470, 530, 590, 650, 710, 800, 920], 9.78: [160, 220, 275, 335, 395, 455, 515, 575, 640, 720],
    9.94: [190, 250, 310, 370, 430, 490, 550, 615, 680, 760], 10.1: [180, 230, 285, 350, 420, 485, 550, 610, 680, 745],
    10.26: [160, 225, 295, 375, 470, 540, 610, 670, 720], 10.42: [195, 250, 325, 390, 470, 545, 620, 680, 750],
    10.58: [145, 205, 270, 345, 420, 490, 555, 610, 670, 720], 10.77: [240, 310, 400, 500, 590, 660],
    11.5: [150, 210, 270, 330, 380, 520, 640], 11.7: [165, 215, 280, 345, 425, 600], 11.9: [180, 225, 285, 345, 520, 620],
    12.1: [165, 225, 280, 330, 420, 510], 12.3: [175, 230, 290, 345, 405, 490], 12.5: [155, 215, 270, 330, 395, 520],
    12.87: [190, 235, 300, 360, 420, 500], 13.07: [175, 225, 285, 340, 405], 13.37: [210, 270, 330, 390],
    13.67: [205, 265, 320, 385, 440], 13.87: [225, 285, 330, 395], 14.06: [205, 265, 325, 380, 425], 14.4: [205, 265, 330, 390],
    16.6: [245, 320, 360, 400], 17.15: [270, 330, 385], 17.55: [250, 305, 360, 405], 17.75: [270, 335, 395], 17.95: [275, 345, 395],
    21.85: [420, 470, 590, 660, 720, 760, 815], 21.95: [590, 640, 700, 760, 830], 22.2: [640, 700, 760, 820, 890], 22.37: [610, 670, 730, 790, 850],
}
spring_sparse_rt = [21.03, 21.94, 21.92, 22.24, 22.35, 22.02, 22.18, 22.33, 22.42, 22.54, 22.45, 22.45, 21.63, 21.79,
                    22.0, 22.09, 22.33, 22.01, 22.33, 22.33, 22.32, 21.94, 22.22, 22.42, 23.3, 23.6, 23.63, 23.6,
                    14.5, 14.5]
spring_sparse_mass = [1810, 1882, 1790, 1790, 1790, 1743, 1732, 1718, 1728, 1718, 1708, 1989, 1642, 1667,
                      1667, 1640, 1667, 1574, 1580, 1547, 1482, 1420, 1416, 1406, 590, 380, 340, 335,
                      1660, 1630]

# ---- SPRING homologue traces ----
spring_rise1_rt = [9.71, 9.67, 9.62, 9.58, 9.54, 9.49, 9.45, 9.36, 9.32, 9.23]
spring_rise1_mass = [1841, 1800, 1749, 1708, 1656, 1615, 1574, 1502, 1440, 1369]
spring_rise2_rt = [10.12, 10.11, 10.03, 10.0, 9.96, 9.92, 9.89, 9.86, 9.83, 9.8, 9.77, 9.71, 9.64, 9.58, 9.52, 9.45, 9.38, 9.32, 9.25, 9.19, 9.12, 9.06]
spring_rise2_mass = [1989, 1950, 1852, 1800, 1749, 1705, 1667, 1635, 1605, 1575, 1543, 1440, 1400, 1358, 1305, 1256, 1205, 1153, 1100, 1050, 1005, 968]
spring_rise3_rt = [10.59, 10.58, 10.56, 10.55, 10.53, 10.51, 10.49, 10.47, 10.45, 10.43, 10.41, 10.39, 10.36, 10.34, 10.31,
                   10.28, 10.26, 10.23, 10.2, 10.18, 10.15, 10.12, 10.09, 10.06, 10.03, 10.0, 9.97, 9.93, 9.89, 9.83]
spring_rise3_mass = [1543, 1510, 1480, 1450, 1420, 1390, 1360, 1330, 1300, 1275, 1250, 1225, 1200, 1175, 1150,
                     1125, 1100, 1075, 1050, 1025, 1000, 975, 950, 925, 900, 880, 860, 845, 830, 814]
spring_short_rt = [10.73, 10.72, 10.71, 10.7, 10.68, 10.66, 10.64, 10.62, 10.6]
spring_short_mass = [1245, 1220, 1195, 1170, 1145, 1120, 1095, 1070, 1050]
spring_spike_rt = [14.2, 14.2, 14.2, 14.2, 14.2, 14.2, 14.19, 14.18, 14.17, 14.15, 14.13, 14.11, 14.09, 14.07, 14.05, 14.02, 14.0, 13.97, 13.94, 13.9, 13.85]
spring_spike_mass = [1175, 1130, 1090, 1060, 1020, 980, 930, 890, 850, 810, 770, 730, 690, 650, 620, 590, 560, 530, 500, 470, 450]
spring_f16_rt = [16.42, 16.5, 16.58, 16.66, 16.7, 16.75, 16.78, 16.85, 16.92, 17.0, 17.08, 17.15, 17.22, 17.3, 17.38, 17.45]
spring_f16_mass = [1060, 1015, 970, 925, 880, 850, 810, 770, 735, 695, 650, 610, 570, 530, 490, 470]
spring_f17_rt = [17.5, 17.57, 17.65, 17.72, 17.78, 17.83, 17.88, 17.94, 18.0, 18.06]
spring_f17_mass = [1100, 1060, 1010, 965, 925, 890, 860, 830, 800, 770]
spring_f18_rt = [18.0, 18.06, 18.15, 18.22, 18.31, 18.4, 18.48, 18.57, 18.66, 18.75, 18.84, 18.93, 19.03, 19.12, 19.21, 19.3, 19.43, 19.52, 19.6, 19.69]
spring_f18_mass = [1512, 1465, 1424, 1379, 1334, 1290, 1245, 1200, 1159, 1118, 1071, 1025, 978, 927, 875, 824, 773, 732, 690, 649]
spring_f19a_rt = [19.52, 19.63, 19.69, 19.78, 19.87, 20.0, 20.13, 20.22, 20.31, 20.41, 20.53, 20.62, 20.72, 20.84, 20.97]
spring_f19a_mass = [1492, 1399, 1358, 1307, 1256, 1214, 1204, 1132, 1081, 1040, 988, 947, 906, 855, 803]
spring_f19b_rt = [19.65, 19.74, 19.82, 19.91, 20.09, 20.19, 20.29, 20.38, 20.48, 20.6, 20.7, 20.79, 20.9, 21.01, 21.14, 21.25]
spring_f19b_mass = [1523, 1471, 1430, 1389, 1307, 1256, 1214, 1169, 1128, 1081, 1040, 988, 947, 902, 855, 814]
spring_f21_rt = [20.75, 20.85, 20.95, 21.06, 21.14, 21.25, 21.35, 21.45, 21.54, 21.67, 21.72, 21.76, 21.83, 21.94, 22.0, 22.08, 22.16, 22.24]
spring_f21_mass = [1800, 1759, 1714, 1671, 1626, 1580, 1539, 1492, 1451, 1406, 1358, 1317, 1276, 1230, 1190, 1150, 1110, 1070]

winter_clouds = [winter_cloud_a, winter_cloud_b, winter_cloud_c, winter_cloud_d, winter_cloud_e, winter_cloud_f]
winter_traces = [(winter_tail_rt, winter_tail_mass), (winter_trace1_rt, winter_trace1_mass),
                 (winter_trace2_rt, winter_trace2_mass), (winter_trace3_rt, winter_trace3_mass),
                 (winter_trace4_rt, winter_trace4_mass), (winter_trace5_rt, winter_trace5_mass),
                 (winter_trace6_rt, winter_trace6_mass), (winter_trace7_rt, winter_trace7_mass),
                 (winter_fall1_rt, winter_fall1_mass), (winter_fall2_rt, winter_fall2_mass),
                 (winter_ridge_rt, winter_ridge_mass), (winter_ring_rt, winter_ring_mass)]
spring_clouds = [spring_cloud_a, spring_cloud_b, spring_cloud_c, spring_cloud_d, spring_cloud_e]
spring_traces = [(spring_sparse_rt, spring_sparse_mass), (spring_rise1_rt, spring_rise1_mass),
                 (spring_rise2_rt, spring_rise2_mass), (spring_rise3_rt, spring_rise3_mass),
                 (spring_short_rt, spring_short_mass), (spring_spike_rt, spring_spike_mass),
                 (spring_f16_rt, spring_f16_mass), (spring_f17_rt, spring_f17_mass),
                 (spring_f18_rt, spring_f18_mass), (spring_f19a_rt, spring_f19a_mass),
                 (spring_f19b_rt, spring_f19b_mass), (spring_f21_rt, spring_f21_mass)]


def collect(clouds, traces):
    rt, mass = [], []
    for cloud in clouds:
        for t, masses in cloud.items():
            rt += [t] * len(masses)
            mass += masses
    for t, m in traces:
        rt += list(t)
        mass += list(m)
    return rt, mass


def panel(fig, top, bottom, clouds, traces):
    W, H = 1143, 878
    ax = fig.add_axes([92.5 / W, 1 - bottom / H, (1130 - 92.5) / W, (bottom - top) / H])
    # pale green wash, a bit darker toward the bottom
    ax.imshow(np.linspace(0, 1, 64).reshape(-1, 1), extent=[0, 25, 0, 2000], aspect="auto",
              cmap=matplotlib.colors.LinearSegmentedColormap.from_list("wash", ["#f6fcf4", "#e8f2e6"]),
              origin="upper", zorder=0)
    ax.set_xlim(0, 25)
    ax.set_ylim(0, 2000)
    ax.set_xticks(X_TICKS)
    ax.set_yticks(Y_TICKS)
    ax.set_xticks(np.arange(0, 26), minor=True)
    ax.set_yticks(np.arange(0, 2001, 100), minor=True)
    ax.grid(which="major", axis="x", color="#cfe4cd", lw=1.0)
    ax.grid(which="minor", axis="x", color="#e0ecdd", lw=0.9)
    ax.grid(which="major", axis="y", color="#d2dfd0", lw=1.2)
    ax.grid(which="minor", axis="y", color="#dfe9dd", lw=0.9)
    ax.set_axisbelow(True)
    for side in ax.spines.values():
        side.set_color("#8c8c8c")
        side.set_linewidth(1.0)
    ax.spines["left"].set_linewidth(1.6)
    ax.spines["bottom"].set_linewidth(1.6)
    ax.tick_params(which="major", length=5, color="#777777", labelsize=13.5, labelcolor="#303030", pad=5)
    ax.tick_params(which="minor", length=3, color="#888888")
    rt, mass = collect(clouds, traces)
    ax.scatter(rt, mass, s=15, c="#1c1c1c", edgecolors="#eef4ec", linewidths=0.4, zorder=3)
    return ax


fig = plt.figure(figsize=(11.43, 8.78), dpi=100, facecolor="white")

ax_w = panel(fig, 44, 368, winter_clouds, winter_traces)
ax_s = panel(fig, 493, 817, spring_clouds, spring_traces)


def px(x, y):
    return x / 1143, 1 - y / 878


for ax_y, lab_y, title_y in [(205, 421, 21), (655, 866, 471)]:
    fig.text(*px(20, ax_y), "Mass (Da)", rotation=90, ha="center", va="center", fontsize=14.5, fontweight="bold", color="#1a1a1a")
    fig.text(*px(612, lab_y), "Retention Time (min)", ha="center", va="center", fontsize=15, fontweight="bold", color="#1a1a1a")
    fig.text(*px(585, title_y), "Mass vs. Retention Time", ha="center", va="center", fontsize=15, fontweight="bold", color="#1a1a1a")
fig.text(*px(89, 30), "WINTER", ha="left", va="center", fontsize=17.5, fontweight="bold", color="black")
fig.text(*px(97, 470), "SPRING", ha="left", va="center", fontsize=17.5, fontweight="bold", color="black")

fig.savefig("out.png", dpi=100)
